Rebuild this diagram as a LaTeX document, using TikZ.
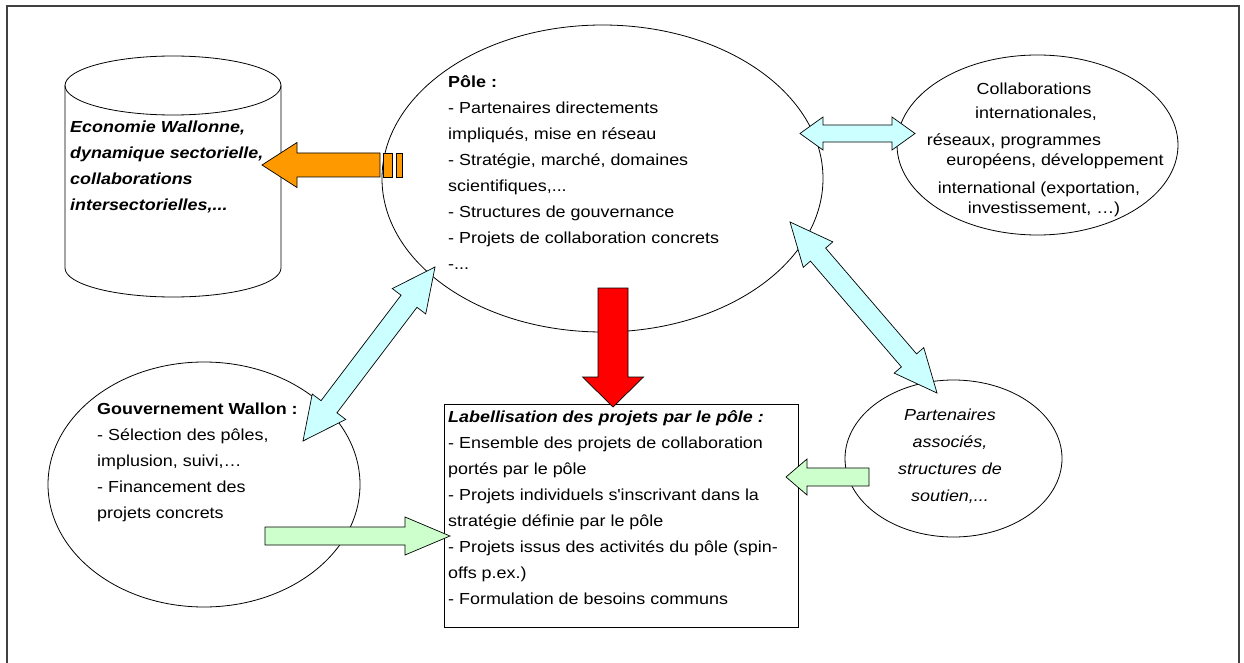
\documentclass[tikz,border=0pt]{standalone}
\usepackage{fontspec}
\setmainfont[FakeStretch=1.12]{Liberation Sans}
\usetikzlibrary{calc,shapes.geometric}
\definecolor{orangefill}{HTML}{FF9900}
\definecolor{cyanfill}{HTML}{CCFFFF}
\definecolor{greenfill}{HTML}{CCFFCC}
\definecolor{redfill}{HTML}{FF0000}
\definecolor{framegray}{HTML}{404040}
% style, tail, tip, head length, head half width, shaft half width
\newcommand\sblock[6]{%
  \draw[#1] ($(#2)!#6!90:(#3)$) -- ($(#3)!#4!(#2)!#6!-90:(#2)$) -- ($(#3)!#4!(#2)!#5!-90:(#2)$)
    -- (#3) -- ($(#3)!#4!(#2)!#5!90:(#2)$) -- ($(#3)!#4!(#2)!#6!90:(#2)$) -- ($(#2)!#6!-90:(#3)$) -- cycle;}
\newcommand\dblock[6]{%
  \draw[#1] (#2) -- ($(#2)!#4!(#3)!#5!90:(#3)$) -- ($(#2)!#4!(#3)!#6!90:(#3)$)
    -- ($(#3)!#4!(#2)!#6!-90:(#2)$) -- ($(#3)!#4!(#2)!#5!-90:(#2)$) -- (#3)
    -- ($(#3)!#4!(#2)!#5!90:(#2)$) -- ($(#3)!#4!(#2)!#6!90:(#2)$)
    -- ($(#2)!#4!(#3)!#6!-90:(#3)$) -- ($(#2)!#4!(#3)!#5!-90:(#3)$) -- cycle;}
\begin{document}
\begin{tikzpicture}[x=1pt,y=-1pt,
  txt/.style={inner sep=0pt, font=\fontsize{16}{26}\selectfont},
  bloc/.style={txt, align=left, anchor=north west},
  shapeline/.style={draw=black, line width=0.8pt},
  ell/.style={shapeline, ellipse, inner sep=0pt},
  orangearr/.style={draw=black, line width=0.7pt, fill=orangefill},
  cyanarr/.style={draw=black, line width=0.7pt, fill=cyanfill},
  greenarr/.style={draw=black, line width=0.7pt, fill=greenfill},
  redarr/.style={draw=black, line width=0.7pt, fill=redfill}]
\useasboundingbox (0,0) rectangle (1244,663);
\fill[white] (0,0) rectangle (1244,663);
% frame
\draw[framegray, line width=1.1pt] (7,680) -- (7,6) -- (1239,6) -- (1239,680);

% cylinder: Economie wallonne
\coordinate (eco) at (173,85.5);
\draw[shapeline, fill=white] (65,85.5) -- (65,268) arc[start angle=180, end angle=360, x radius=108pt, y radius=29pt] -- (281,85.5);
\draw[shapeline] (eco) ellipse [x radius=108pt, y radius=29.5pt];
\node[bloc, font=\fontsize{16}{26}\selectfont\bfseries\itshape] (ecotxt) at (70,119.5)
  {\rule{0pt}{13pt}Economie Wallonne,\\dynamique sectorielle,\\collaborations\\intersectorielles,...};

% Pole ellipse
\node[ell, minimum width=441pt, minimum height=307pt] (pole) at (602.5,178.5) {};
\node[bloc] (poletxt) at (448,74.5)
  {\rule{0pt}{13pt}\textbf{Pôle :}\\- Partenaires directements\\impliqués, mise en réseau\\- Stratégie, marché, domaines\\scientifiques,...\\- Structures de gouvernance\\- Projets de collaboration concrets\\-...};

% Collaborations ellipse
\node[ell, minimum width=281pt, minimum height=180pt] (collab) at (1037.5,145) {};
\node[txt, anchor=base] (c1) at (1034,94.5) {Collaborations};
\node[txt, anchor=base] (c2) at (1036,118.5) {internationales,};
\node[txt, anchor=base] (c3) at (1014,145.5) {réseaux, programmes};
\node[txt, anchor=base] (c4) at (1055,165.5) {européens, développement};
\node[txt, anchor=base] (c5) at (1039,193.5) {international (exportation,};
\node[txt, anchor=base] (c6) at (1044,213.5) {investissement, …)};

% Gouvernement ellipse
\node[ell, minimum width=312pt, minimum height=245pt] (gov) at (204,484.5) {};
\node[bloc] (govtxt) at (97,401.5)
  {\rule{0pt}{13pt}\textbf{Gouvernement Wallon :}\\- Sélection des pôles,\\implusion, suivi,…\\- Financement des\\projets concrets};

% Partenaires ellipse
\node[ell, minimum width=217pt, minimum height=157pt] (part) at (953.5,458.5) {};
\node[txt, align=center, anchor=north, font=\fontsize{16}{27}\selectfont\itshape] (parttxt) at (950,407.5)
  {\rule{0pt}{13pt}Partenaires\\associés,\\structures de\\soutien,...};

% Labellisation box
\node[draw=black, line width=0.8pt, minimum width=354pt, minimum height=223pt, inner sep=0pt] (label) at (621,515.5) {};
\node[bloc] (labeltxt) at (448,409.5)
  {\rule{0pt}{13pt}\textbf{\itshape Labellisation des projets par le pôle :}\\- Ensemble des projets de collaboration\\portés par le pôle\\- Projets individuels s\textquotesingle inscrivant dans la\\stratégie définie par le pôle\\- Projets issus des activités du pôle (spin-\\offs p.ex.)\\- Formulation de besoins communs};

% arrow end points
\coordinate (oT) at (380,165);   \coordinate (oH) at (262,165);
\coordinate (rT) at (613,288);   \coordinate (rH) at (613,407);
\coordinate (gT) at (265,536);   \coordinate (gH) at (450,536);
\coordinate (pT) at (869,477);   \coordinate (pH) at (786,477);
\coordinate (hA) at (800,133.5); \coordinate (hB) at (915,133.5);
\coordinate (d1A) at (303,441);  \coordinate (d1B) at (435,267);
\coordinate (d2A) at (790,222);  \coordinate (d2B) at (937,393);

% orange striped arrow: pole -> economie
\sblock{orangearr}{oT}{oH}{35pt}{22.5pt}{12pt}
\draw[orangearr] (383,153) rectangle (392,177);
\draw[orangearr] (396,153) rectangle (402,177);

% red arrow: pole -> labellisation
\sblock{redarr}{rT}{rH}{30pt}{30.5pt}{15pt}

% green arrows
\sblock{greenarr}{gT}{gH}{45pt}{19pt}{9pt}
\sblock{greenarr}{pT}{pH}{21pt}{18pt}{9pt}

% cyan double arrows
\dblock{cyanarr}{hA}{hB}{23pt}{16.5pt}{8.5pt}
\dblock{cyanarr}{d1A}{d1B}{43pt}{21pt}{10pt}
\dblock{cyanarr}{d2A}{d2B}{43pt}{19.5pt}{10pt}
\end{tikzpicture}
\end{document}
